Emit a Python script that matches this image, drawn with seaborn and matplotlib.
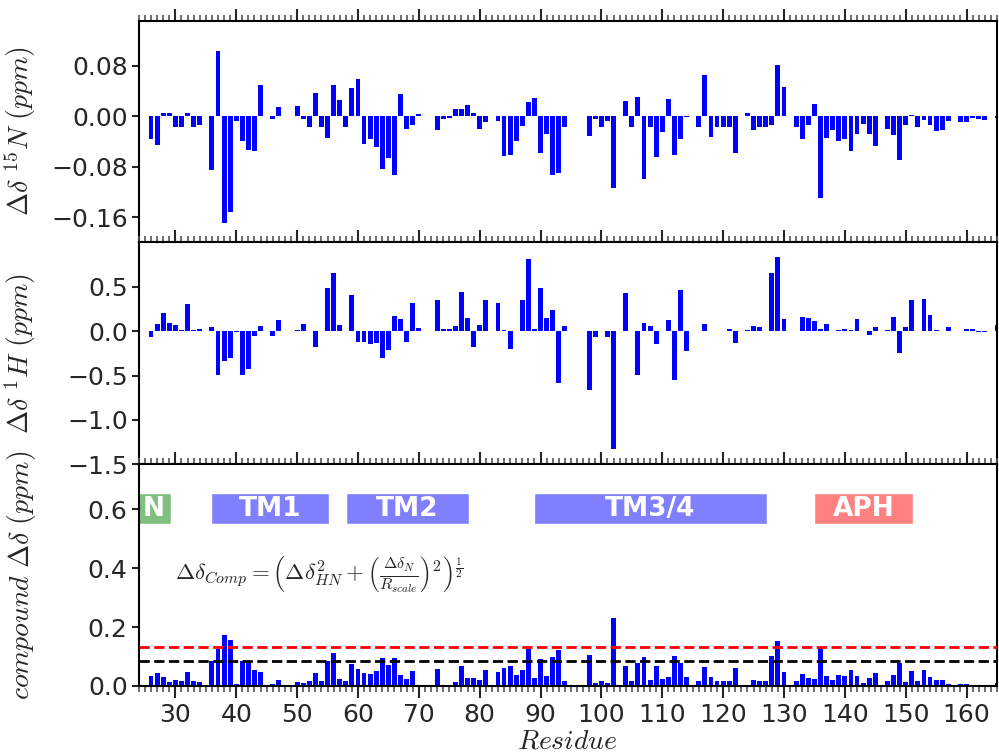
import numpy as np
import pandas as pd
import matplotlib
matplotlib.use("Agg")
import matplotlib.pyplot as plt
import seaborn as sns

nan = np.nan
residues = list(range(26, 166))

delta_N = [
    -0.036, -0.045, 0.005, 0.005, -0.018, -0.018, 0.005, -0.018, -0.014, nan,   # 26-35
    -0.085, 0.103, -0.169, -0.152, -0.007, -0.039, -0.053, -0.055, 0.049, nan,  # 36-45
    -0.004, 0.014, nan, nan, 0.016, -0.004, -0.018, 0.036, -0.018, -0.034,      # 46-55
    0.049, 0.025, -0.018, 0.044, 0.059, -0.044, -0.037, -0.049, -0.083, -0.066, # 56-65
    -0.093, 0.035, -0.020, -0.014, 0.003, nan, nan, -0.022, -0.004, -0.003,     # 66-75
    0.011, 0.011, 0.017, 0.005, -0.020, -0.009, nan, -0.007, -0.063, -0.061,    # 76-85
    -0.039, -0.015, 0.022, 0.029, -0.058, -0.028, -0.093, -0.090, -0.017, nan,  # 86-95
    nan, nan, -0.031, -0.004, -0.018, -0.007, -0.114, nan, 0.024, -0.018,       # 96-105
    0.030, -0.099, -0.018, -0.064, -0.025, 0.027, -0.061, -0.036, -0.001, nan,  # 106-115
    -0.018, 0.065, -0.033, -0.018, -0.018, -0.017, -0.058, nan, 0.005, -0.022,  # 116-125
    -0.018, -0.018, -0.014, 0.081, 0.046, nan, -0.018, -0.036, -0.014, 0.019,   # 126-135
    -0.129, -0.034, -0.022, -0.039, -0.036, -0.055, -0.028, -0.012, -0.028, -0.047,  # 136-145
    nan, -0.020, -0.030, -0.070, -0.014, 0.002, -0.018, -0.006, -0.014, -0.023, # 146-155
    -0.022, -0.007, nan, -0.009, -0.009, -0.003, -0.004, -0.006, nan, -0.003,   # 156-165
]

delta_H = [
    -0.071, 0.083, 0.207, 0.094, 0.071, 0.008, 0.308, 0.008, 0.026, nan,        # 26-35
    0.049, -0.489, -0.331, -0.297, -0.015, -0.489, -0.432, -0.060, 0.060, nan,  # 36-45
    -0.060, 0.128, nan, nan, 0.015, 0.083, 0.004, -0.184, 0.004, 0.489,         # 46-55
    0.658, 0.071, 0.004, 0.410, -0.117, -0.117, -0.150, -0.139, -0.308, -0.207, # 56-65
    0.173, 0.139, -0.117, 0.320, 0.038, nan, nan, 0.353, 0.019, 0.026,          # 66-75
    0.060, 0.444, 0.150, -0.184, 0.071, 0.353, nan, 0.320, 0.015, -0.196,       # 76-85
    0.004, 0.353, 0.816, 0.026, 0.489, 0.150, 0.241, -0.579, 0.060, nan,        # 86-95
    nan, nan, -0.658, -0.071, 0.004, -0.071, -1.323, nan, 0.432, 0.004,         # 96-105
    -0.489, 0.094, 0.060, -0.150, 0.004, 0.128, -0.556, 0.466, -0.218, nan,     # 106-115
    0.004, 0.083, 0.004, 0.004, 0.004, 0.026, -0.139, nan, 0.015, 0.060,        # 116-125
    0.049, 0.004, 0.658, 0.838, 0.139, nan, 0.004, 0.162, 0.150, 0.117,         # 126-135
    0.026, 0.083, 0.004, 0.015, 0.026, 0.015, 0.139, 0.004, -0.038, 0.049,      # 136-145
    nan, 0.015, 0.162, -0.241, 0.049, 0.353, 0.004, 0.365, 0.184, 0.015,        # 146-155
    0.004, 0.049, nan, 0.004, 0.026, 0.026, -0.011, -0.011, nan, 0.071,         # 156-165
]

delta_comp = [
    0.034, 0.045, 0.031, 0.015, 0.020, 0.018, 0.049, 0.018, 0.015, nan,         # 26-35
    0.086, 0.125, 0.173, 0.157, 0.007, 0.086, 0.086, 0.054, 0.049, nan,         # 36-45
    0.007, 0.020, nan, nan, 0.015, 0.011, 0.018, 0.045, 0.018, 0.086,           # 46-55
    0.113, 0.025, 0.018, 0.076, 0.059, 0.045, 0.042, 0.052, 0.096, 0.072,       # 56-65
    0.096, 0.038, 0.025, 0.052, 0.003, nan, nan, 0.058, 0.003, 0.003,           # 66-75
    0.015, 0.068, 0.027, 0.027, 0.020, 0.054, nan, 0.047, 0.061, 0.068,         # 76-85
    0.037, 0.054, 0.125, 0.027, 0.092, 0.034, 0.098, 0.122, 0.017, nan,         # 86-95
    nan, nan, 0.105, 0.010, 0.017, 0.010, 0.231, nan, 0.068, 0.017,             # 96-105
    0.078, 0.098, 0.020, 0.068, 0.024, 0.031, 0.102, 0.078, 0.031, nan,         # 106-115
    0.017, 0.064, 0.031, 0.017, 0.017, 0.017, 0.061, nan, 0.003, 0.020,         # 116-125
    0.017, 0.017, 0.102, 0.153, 0.047, nan, 0.017, 0.041, 0.027, 0.024,         # 126-135
    0.129, 0.034, 0.020, 0.037, 0.034, 0.054, 0.034, 0.010, 0.027, 0.044,       # 136-145
    nan, 0.017, 0.037, 0.078, 0.014, 0.051, 0.017, 0.054, 0.031, 0.020,         # 146-155
    0.020, 0.007, nan, 0.007, 0.007, 0.003, 0.003, 0.003, nan, 0.010,           # 156-165
]

threshold_mean = 0.086
threshold_sd = 0.133

domain_names = ["N", "TM1", "TM2", "TM3/4", "APH"]
domain_start = [23.6, 35.9, 58.0, 88.9, 134.9]
domain_end = [29.2, 55.2, 78.2, 127.2, 151.2]
domain_colors = ["#80bf80", "#8080ff", "#8080ff", "#8080ff", "#ff8080"]

xticks = list(range(30, 161, 10))
yticks_N = [-0.16, -0.08, 0.00, 0.08]
yticks_H = [-1.5, -1.0, -0.5, 0.0, 0.5]
yticks_C = [0.0, 0.2, 0.4, 0.6]

df = pd.DataFrame({"residue": residues, "dN": delta_N, "dH": delta_H, "dC": delta_comp})

sns.set_style("white")
plt.rcParams["mathtext.fontset"] = "cm"
plt.rcParams["font.family"] = ["DejaVu Sans"]

fig = plt.figure(figsize=(9.99, 7.53), dpi=100)
gs = fig.add_gridspec(3, 1, left=0.139, right=0.998, top=0.9725, bottom=0.089, hspace=0)
axes = [fig.add_subplot(gs[i]) for i in range(3)]

for ax, col in zip(axes, ["dN", "dH", "dC"]):
    sns.barplot(data=df, x="residue", y=col, native_scale=True, width=0.8,
                color="#0000ff", saturation=1, errorbar=None, ax=ax, zorder=2,
                linewidth=0, edgecolor="none")

ax1, ax2, ax3 = axes
ax1.set_ylim(-0.2, 0.151)
ax1.set_yticks(yticks_N)
ax1.set_yticklabels([f"{v:.2f}".replace("-", "\u2212") for v in yticks_N])
ax2.set_ylim(-1.5, 1.0)
ax2.set_yticks(yticks_H)
ax2.set_yticklabels([f"{v:.1f}".replace("-", "\u2212") for v in yticks_H])
ax3.set_ylim(0, 0.752)
ax3.set_yticks(yticks_C)
ax3.set_yticklabels([f"{v:.1f}" for v in yticks_C])

ax1.set_ylabel(r"$\Delta\delta\ ^{15}N\ (ppm)$", fontsize=20)
ax2.set_ylabel(r"$\Delta\delta\ ^{1}H\ (ppm)$", fontsize=20)
ax3.set_ylabel(r"$compound\ \Delta\delta\ (ppm)$", fontsize=20)
ax3.set_xlabel(r"$Residue$", fontsize=20, labelpad=0)
for ax in axes:
    ax.yaxis.set_label_coords(-0.118, 0.5)

for i, ax in enumerate(axes):
    ax.set_xlim(24.1, 164.8)
    ax.set_xticks(xticks)
    ax.set_xticks(np.arange(24, 166, 1), minor=True)
    for s in ax.spines.values():
        s.set_linewidth(1.5)
        s.set_color("black")
    ax.tick_params(axis="y", which="major", direction="out", length=5, width=1.5,
                   labelsize=18, left=True, right=False, pad=3)
    ax.tick_params(axis="x", which="major", direction="out", length=8.5, width=1.5,
                   top=True, bottom=(i == 2), labelbottom=(i == 2), labelsize=18)
    ax.tick_params(axis="x", which="minor", direction="out", length=4, width=1.2,
                   color="#555555", top=True, bottom=(i == 2))
    if i < 2:
        ax.set_xlabel("")

ax3.axhline(threshold_sd, color="red", linestyle="--", linewidth=2, zorder=3)
ax3.axhline(threshold_mean, color="black", linestyle="--", linewidth=2, zorder=3)

for name, s, e, c in zip(domain_names, domain_start, domain_end, domain_colors):
    ax3.broken_barh([(s, e - s)], (0.548, 0.105), facecolors=c, zorder=1)
    ax3.text((s + e) / 2, 0.6, name, color="white", fontweight="bold", fontsize=19,
             ha="center", va="center", zorder=4)

ax3.text(30, 0.375,
         r"$\Delta\delta_{Comp} = \left(\Delta\delta^2_{HN} + \left(\frac{\Delta\delta_N}{R_{scale}}\right)^2\right)^{\frac{1}{2}}$",
         fontsize=16.5, ha="left", va="center")

fig.savefig("out.png", dpi=100)
